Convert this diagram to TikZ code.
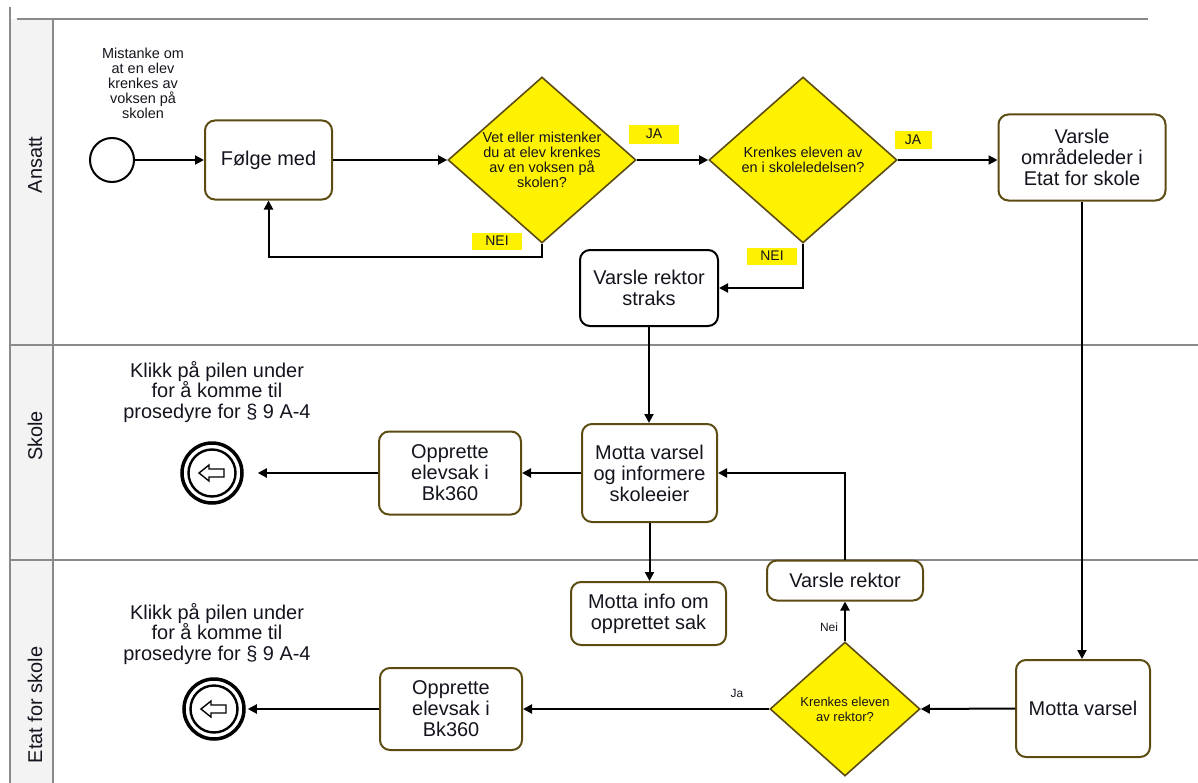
\documentclass[tikz,border=0pt]{standalone}
\usepackage{fontspec}
\setmainfont{Liberation Sans}
\usetikzlibrary{shapes.geometric,arrows.meta,calc}
\definecolor{boxborder}{RGB}{92,76,18}
\definecolor{lanegray}{RGB}{138,138,138}
\definecolor{headfill}{RGB}{243,243,243}
\definecolor{txt}{RGB}{20,20,30}
\begin{document}
\begin{tikzpicture}[x=1bp,y=-1bp,
  every node/.style={text=txt},
  task/.style={draw=boxborder, line width=2bp, rounded corners=10bp, fill=white, align=center, inner sep=0pt, font=\fontsize{20}{21}\selectfont},
  gate/.style={diamond, draw=boxborder, line width=1.6bp, fill=yellow, inner sep=0pt},
  gtext/.style={align=center, font=\fontsize{14.5}{15}\selectfont},
  flow/.style={line width=2bp, draw=black, -{Triangle[length=9bp,width=9bp]}},
  ylab/.style={fill=yellow, inner sep=0pt, font=\fontsize{14}{15}\selectfont},
  small/.style={font=\fontsize{12}{13}\selectfont},
  lane/.style={draw=lanegray, line width=2.5bp},
  lanelabel/.style={rotate=90, font=\fontsize{20}{21}\selectfont},
  bigtext/.style={align=center, font=\fontsize{20}{20.5}\selectfont},
]
\useasboundingbox (0,0) rectangle (1198,783);
% lanes
\fill[headfill] (11,19) rectangle (53,783);
\draw[lane] (10,7) -- (10,783);
\draw[lane] (53,19) -- (53,783);
\draw[lane] (17,19) -- (1148,19);
\draw[lane] (11,345) -- (1198,345);
\draw[lane] (11,560) -- (1198,560);
\node[lanelabel] (lA) at (35,165) {Ansatt};
\node[lanelabel] (lS) at (35,436) {Skole};
\node[lanelabel] (lE) at (35,705) {Etat for skole};

% Ansatt lane
\node[circle, draw=black, line width=2bp, minimum size=44bp, inner sep=0pt, fill=white] (start) at (112,160) {};
\node[align=center, font=\fontsize{14.5}{15}\selectfont] (mist) at (143,83) {Mistanke om\\at en elev\\krenkes av\\voksen på\\skolen};
\node[task, minimum width=127bp, minimum height=79bp] (folge) at (268.5,160) {Følge med};
\node[gate, minimum width=188bp, minimum height=166bp, label={[gtext]center:Vet eller mistenker\\du at elev krenkes\\av en voksen på\\skolen?}] (d1) at (542,160) {};
\node[gate, minimum width=188bp, minimum height=166bp, label={[gtext]center:Krenkes eleven av\\en i skoleledelsen?}] (d2) at (803,160) {};
\node[task, minimum width=167bp, minimum height=86bp] (omr) at (1082,157.5) {Varsle\\områdeleder i\\Etat for skole};
\node[task, draw=black, minimum width=138bp, minimum height=76bp] (straks) at (649,288) {Varsle rektor\\straks};
\node[ylab, minimum width=50bp, minimum height=19bp] (ja1) at (654,134) {JA};
\node[ylab, minimum width=37bp, minimum height=18bp] (ja2) at (913,140) {JA};
\node[ylab, minimum width=50bp, minimum height=17bp] (nei1) at (497,241) {NEI};
\node[ylab, minimum width=50bp, minimum height=17bp] (nei2) at (772,256) {NEI};

% Skole lane
\node[task, minimum width=135bp, minimum height=98bp] (mvi) at (649.5,473) {Motta varsel\\og informere\\skoleeier};
\node[task, minimum width=142bp, minimum height=83bp] (opp1) at (450,473) {Opprette\\elevsak i\\Bk360};
\node[circle, draw=black, line width=3.5bp, minimum size=60bp, inner sep=0pt] (end1) at (212,473) {};
\draw[black, line width=2.4bp] (end1.center) circle (23.5);
\draw[black, line width=1.4bp, line join=miter] ($(end1.center)+(-13,0)$) -- ++(10,-8) -- ++(0,4) -- ++(15,0) -- ++(0,8) -- ++(-15,0) -- ++(0,4) -- cycle;
\node[bigtext] (klikk1) at (217,392) {Klikk på pilen under\\for å komme til\\prosedyre for § 9 A-4};

% Etat lane
\node[task, minimum width=155bp, minimum height=63bp] (minfo) at (648.5,613.5) {Motta info om\\opprettet sak};
\node[task, minimum width=156bp, minimum height=40bp] (vrektor) at (845,580.5) {Varsle rektor};
\node[gate, minimum width=150bp, minimum height=134bp, label={[align=center, font=\fontsize{13}{15}\selectfont]center:Krenkes eleven\\av rektor?}] (d3) at (845,709) {};
\node[task, minimum width=134bp, minimum height=97bp] (mvarsel) at (1083,708.5) {Motta varsel};
\node[task, minimum width=142bp, minimum height=82bp] (opp2) at (451,709) {Opprette\\elevsak i\\Bk360};
\node[circle, draw=black, line width=3.5bp, minimum size=60bp, inner sep=0pt] (end2) at (214,709) {};
\draw[black, line width=2.4bp] (end2.center) circle (23.5);
\draw[black, line width=1.4bp, line join=miter] ($(end2.center)+(-13,0)$) -- ++(10,-8) -- ++(0,4) -- ++(15,0) -- ++(0,8) -- ++(-15,0) -- ++(0,4) -- cycle;
\node[bigtext] (klikk2) at (217,634) {Klikk på pilen under\\for å komme til\\prosedyre for § 9 A-4};
\node[small] (lnei) at (829,627) {Nei};
\node[small] (lja) at (737,693) {Ja};

% connectors
\coordinate (n1) at (542,257);
\draw[flow] (start) -- (folge);
\draw[flow] (folge) -- (d1);
\draw[flow] (d1) -- (d2);
\draw[flow] (d2.east) -- (omr.west |- d2.east);
\draw[flow] (d1.south) -- (n1) -| (folge.south);
\draw[flow] (d2.south) |- (straks.east);
\draw[flow] (omr.south) -- (omr.south |- mvarsel.north);
\draw[flow] (straks.south) -- (straks.south |- mvi.north);
\draw[flow] (mvi.west) -- (opp1.east);
\draw[flow, shorten >=14bp] (opp1.west) -- (end1.east);
\draw[flow] (mvi.south) -- (mvi.south |- minfo.north);
\draw[flow] (vrektor.north) |- (mvi.east);
\draw[flow] (d3.north) -- (vrektor.south);
\draw[flow] (mvarsel.west) -- (d3.east);
\draw[flow] (d3.west) -- (opp2.east);
\draw[flow, shorten >=2bp] (opp2.west) -- (end2.east);
\end{tikzpicture}
\end{document}
